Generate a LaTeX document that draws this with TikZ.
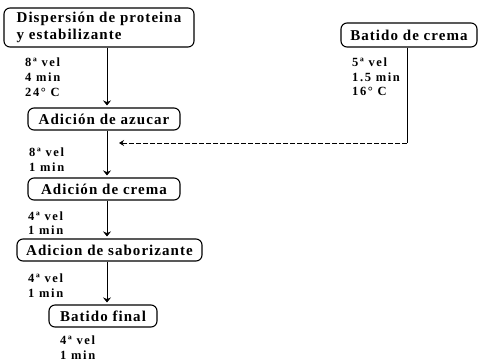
\documentclass[tikz,border=0pt]{standalone}
\usepackage{fontspec}
\setmainfont{Liberation Serif}
\usetikzlibrary{arrows.meta}
\newfontfamily\boxfont[LetterSpace=7]{Liberation Serif}
\newfontfamily\lblfont[LetterSpace=13]{Liberation Serif}
\tikzset{
  stepbox/.style={draw, line width=1.1pt, rounded corners=6pt, inner sep=0pt,
    minimum height=22pt, font=\boxfont\bfseries\fontsize{15}{17}\selectfont},
  lbl/.style={anchor=base west, inner sep=0pt, font=\lblfont\bfseries\fontsize{12.5}{15}\selectfont},
  flow/.style={line width=0.9pt, -{Stealth[length=5pt,width=8pt]}, shorten >=2pt},
  feed/.style={line width=0.9pt, dash pattern=on 5pt off 2pt, -{Stealth[length=5pt,width=6pt]}},
}
\begin{document}
\begin{tikzpicture}[x=1pt,y=-1pt]
\useasboundingbox (0,0) rectangle (478,362);
% process steps
\node[stepbox, minimum width=190pt, minimum height=39pt, align=left] (d1) at (99,27.5)
  {Dispersión de proteina\\y estabilizante};
\node[stepbox, minimum width=152pt] (d2) at (104,119) {Adición de azucar};
\node[stepbox, minimum width=152pt] (d3) at (104,189) {Adición de crema};
\node[stepbox, minimum width=185pt] (d4) at (109.5,250) {Adicion de saborizante};
\node[stepbox, minimum width=108pt] (d5) at (103,316) {Batido final};
\node[stepbox, minimum width=136pt, minimum height=24pt] (bc) at (409,35) {Batido de crema};
% main flow axis and side feed
\coordinate (ax) at (107,0);
\coordinate (j) at (407,143);
\coordinate (tip) at (119,143);
\draw[flow] (d1.south -| ax) -- (d2.north -| ax);
\draw[flow] (d2.south -| ax) -- (d3.north -| ax);
\draw[flow] (d3.south -| ax) -- (d4.north -| ax);
\draw[flow] (d4.south -| ax) -- (d5.north -| ax);
\draw[line width=0.9pt] (bc.south -| j) -- (j);
\draw[feed] (j) -- (tip);
% conditions
\node[lbl] (c1a) at (25,66) {8ª vel};
\node[lbl] (c1b) at (25,81) {4 min};
\node[lbl] (c1c) at (25,96) {24° C};
\node[lbl] (c2a) at (29,156) {8ª vel};
\node[lbl] (c2b) at (29,171) {1 min};
\node[lbl] (c3a) at (28,220) {4ª vel};
\node[lbl] (c3b) at (28,234) {1 min};
\node[lbl] (c4a) at (28,282) {4ª vel};
\node[lbl] (c4b) at (28,297) {1 min};
\node[lbl] (c5a) at (60,344) {4ª vel};
\node[lbl] (c5b) at (60,359) {1 min};
\node[lbl] (b1) at (352,66) {5ª vel};
\node[lbl] (b2) at (352,81) {1.5 min};
\node[lbl] (b3) at (352,95) {16° C};
\end{tikzpicture}
\end{document}
